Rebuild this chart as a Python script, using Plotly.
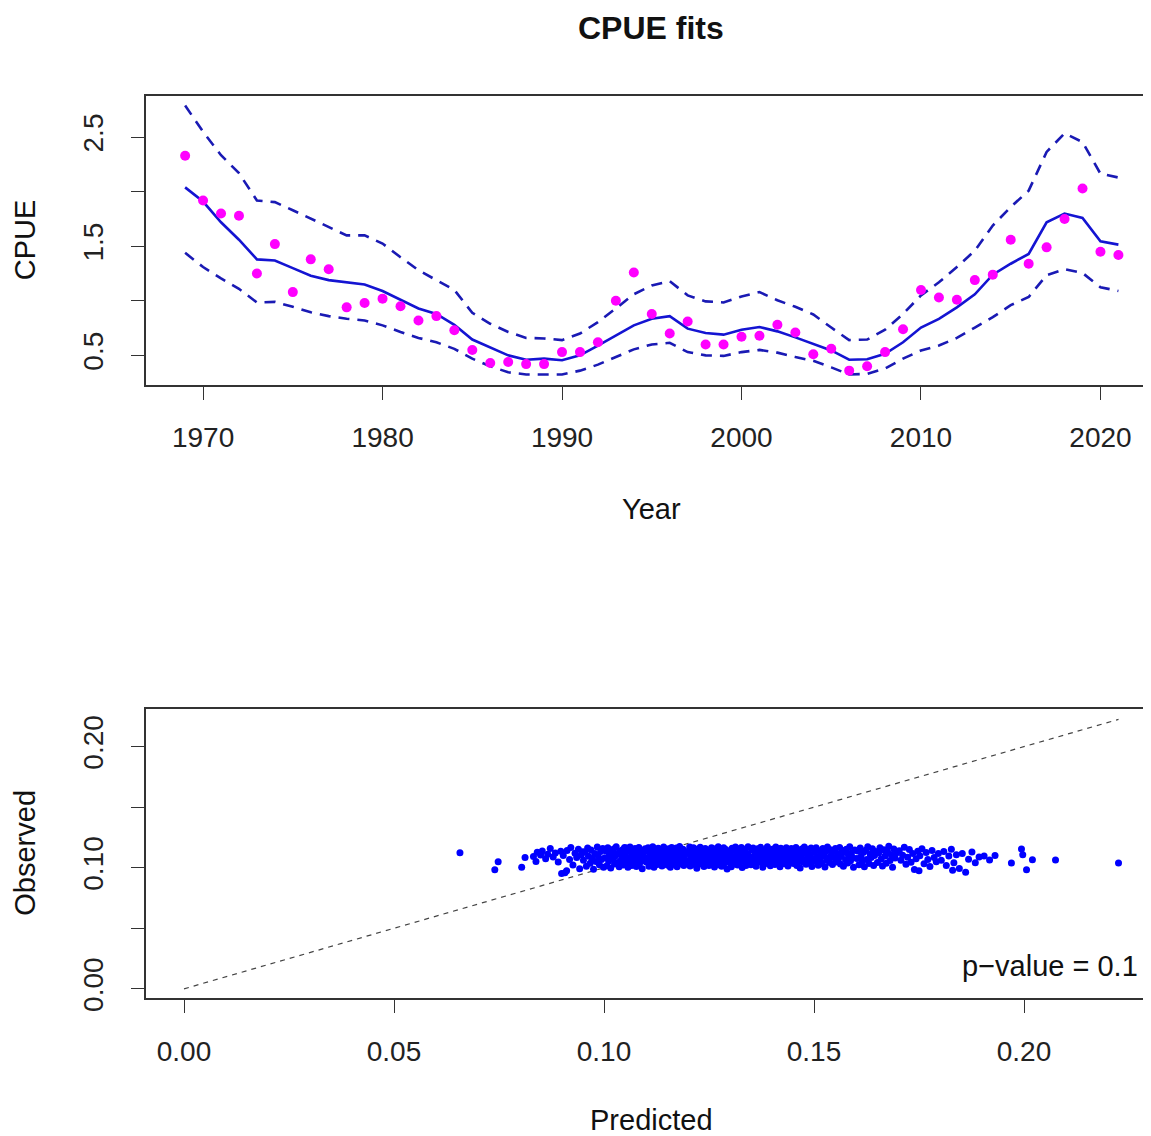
import plotly.graph_objects as go

# ---- top panel: CPUE by year ----
years = list(range(1969, 2022))

obs_cpue = [2.33, 1.92, 1.80, 1.78, 1.25, 1.52, 1.08, 1.38, 1.29, 0.94,
            0.98, 1.02, 0.95, 0.82, 0.86, 0.73, 0.55, 0.43, 0.44, 0.42,
            0.42, 0.53, 0.53, 0.62, 1.00, 1.26, 0.88, 0.70, 0.81, 0.60,
            0.60, 0.67, 0.68, 0.78, 0.71, 0.51, 0.56, 0.36, 0.40, 0.53,
            0.74, 1.10, 1.03, 1.01, 1.19, 1.24, 1.56, 1.34, 1.49, 1.75,
            2.03, 1.45, 1.42]

fit_cpue = [2.04, 1.91, 1.72, 1.56, 1.38, 1.37, 1.30, 1.23, 1.19, 1.17,
            1.15, 1.09, 1.01, 0.93, 0.88, 0.78, 0.645, 0.57, 0.50, 0.46,
            0.47, 0.455, 0.50, 0.59, 0.68, 0.775, 0.835, 0.86, 0.745, 0.705,
            0.69, 0.735, 0.76, 0.72, 0.665, 0.605, 0.545, 0.46, 0.465, 0.515,
            0.62, 0.755, 0.835, 0.94, 1.06, 1.24, 1.34, 1.43, 1.72, 1.80,
            1.76, 1.545, 1.515]

upper_cpue = [2.79, 2.55, 2.335, 2.17, 1.92, 1.905, 1.83, 1.755, 1.68, 1.60,
              1.60, 1.525, 1.40, 1.28, 1.19, 1.10, 0.89, 0.79, 0.715, 0.66,
              0.655, 0.64, 0.70, 0.805, 0.93, 1.06, 1.14, 1.18, 1.05, 0.995,
              0.985, 1.04, 1.08, 1.005, 0.945, 0.875, 0.755, 0.64, 0.645, 0.735,
              0.88, 1.05, 1.17, 1.31, 1.46, 1.69, 1.86, 2.01, 2.365, 2.535,
              2.455, 2.165, 2.13]

lower_cpue = [1.44, 1.31, 1.205, 1.11, 0.985, 0.99, 0.945, 0.895, 0.86, 0.835,
              0.82, 0.775, 0.715, 0.66, 0.62, 0.56, 0.47, 0.40, 0.345, 0.325,
              0.325, 0.325, 0.36, 0.415, 0.485, 0.555, 0.60, 0.615, 0.53, 0.50,
              0.495, 0.53, 0.55, 0.525, 0.485, 0.45, 0.39, 0.325, 0.33, 0.38,
              0.47, 0.545, 0.59, 0.66, 0.755, 0.85, 0.96, 1.035, 1.235, 1.29,
              1.255, 1.125, 1.09]

# ---- bottom panel: predicted vs observed ----
predicted = [
    0.0657, 0.0748, 0.0740, 0.0804, 0.0812, 0.0899, 0.0911,
    0.0832, 0.0841, 0.0838, 0.0849,
    0.0853, 0.0861, 0.0866, 0.0872, 0.0879, 0.0884, 0.0891, 0.0897,
    0.0903, 0.0907, 0.0912, 0.0918, 0.0921, 0.0926, 0.0931, 0.0935, 0.0939, 0.0942, 0.0946, 0.0949,
    0.0951, 0.0954, 0.0958, 0.0961, 0.0963, 0.0967, 0.0969, 0.0972, 0.0975, 0.0978, 0.0981, 0.0984,
    0.0986, 0.0989, 0.0992, 0.0994, 0.0997, 0.0999,
    0.1002, 0.1004, 0.1007, 0.1009, 0.1011, 0.1013, 0.1016, 0.1018, 0.1021, 0.1023, 0.1025, 0.1027,
    0.1029, 0.1032, 0.1034, 0.1036, 0.1038, 0.1041, 0.1043, 0.1045, 0.1046, 0.1048, 0.1049, 0.1047,
    0.1051, 0.1052, 0.1054, 0.1056, 0.1057, 0.1059, 0.1061, 0.1062, 0.1064, 0.1066, 0.1067, 0.1069,
    0.1071, 0.1072, 0.1074, 0.1076, 0.1077, 0.1079, 0.1081, 0.1083, 0.1084, 0.1086, 0.1088, 0.1089,
    0.1091, 0.1093, 0.1095, 0.1098,
    0.1101, 0.1102, 0.1104, 0.1105, 0.1107, 0.1108, 0.1110, 0.1112, 0.1113, 0.1115, 0.1116, 0.1118,
    0.1119, 0.1121, 0.1122, 0.1124, 0.1126, 0.1127, 0.1129, 0.1130, 0.1132, 0.1134, 0.1135, 0.1137,
    0.1138, 0.1140, 0.1142, 0.1143, 0.1145, 0.1148,
    0.1151, 0.1152, 0.1154, 0.1155, 0.1157, 0.1158, 0.1160, 0.1161, 0.1163, 0.1165, 0.1166, 0.1168,
    0.1169, 0.1171, 0.1172, 0.1174, 0.1175, 0.1177, 0.1179, 0.1180, 0.1182, 0.1183, 0.1185, 0.1186,
    0.1188, 0.1190, 0.1191, 0.1193, 0.1195, 0.1198,
    0.1201, 0.1202, 0.1204, 0.1205, 0.1207, 0.1209, 0.1210, 0.1212, 0.1213, 0.1215, 0.1216, 0.1218,
    0.1219, 0.1221, 0.1223, 0.1224, 0.1226, 0.1227, 0.1229, 0.1230, 0.1232, 0.1233, 0.1235, 0.1237,
    0.1238, 0.1240, 0.1241, 0.1243, 0.1245, 0.1247,
    0.1250, 0.1252, 0.1253, 0.1255, 0.1256, 0.1258, 0.1260, 0.1261, 0.1263, 0.1264, 0.1266, 0.1267,
    0.1269, 0.1271, 0.1272, 0.1274, 0.1275, 0.1277, 0.1278, 0.1280, 0.1282, 0.1283, 0.1285, 0.1286,
    0.1288, 0.1290, 0.1291, 0.1293, 0.1295, 0.1297,
    0.1300, 0.1302, 0.1303, 0.1305, 0.1306, 0.1308, 0.1310, 0.1311, 0.1313, 0.1314, 0.1316, 0.1318,
    0.1319, 0.1321, 0.1322, 0.1324, 0.1325, 0.1327, 0.1329, 0.1330, 0.1332, 0.1333, 0.1335, 0.1337,
    0.1338, 0.1340, 0.1341, 0.1343, 0.1345, 0.1347,
    0.1350, 0.1352, 0.1354, 0.1355, 0.1357, 0.1359, 0.1361, 0.1362, 0.1364, 0.1366, 0.1368, 0.1369,
    0.1371, 0.1373, 0.1375, 0.1376, 0.1378, 0.1380, 0.1382, 0.1383, 0.1385, 0.1387, 0.1389, 0.1390,
    0.1392, 0.1394, 0.1396, 0.1398,
    0.1401, 0.1403, 0.1405, 0.1407, 0.1409, 0.1411, 0.1413, 0.1415, 0.1417, 0.1419, 0.1421, 0.1423,
    0.1424, 0.1426, 0.1428, 0.1430, 0.1432, 0.1434, 0.1436, 0.1438, 0.1440, 0.1442, 0.1444, 0.1446,
    0.1447, 0.1449,
    0.1451, 0.1453, 0.1455, 0.1457, 0.1459, 0.1461, 0.1463, 0.1465, 0.1467, 0.1469, 0.1471, 0.1473,
    0.1475, 0.1477, 0.1479, 0.1481, 0.1483, 0.1485, 0.1487, 0.1489, 0.1491, 0.1493, 0.1495, 0.1498,
    0.1501, 0.1503, 0.1505, 0.1508, 0.1510, 0.1512, 0.1514, 0.1517, 0.1519, 0.1521, 0.1523, 0.1526,
    0.1528, 0.1530, 0.1532, 0.1535, 0.1537, 0.1539, 0.1541, 0.1544, 0.1546, 0.1548,
    0.1551, 0.1553, 0.1556, 0.1558, 0.1561, 0.1563, 0.1565, 0.1568, 0.1570, 0.1573, 0.1575, 0.1577,
    0.1580, 0.1582, 0.1585, 0.1587, 0.1589, 0.1592, 0.1594, 0.1597,
    0.1602, 0.1604, 0.1607, 0.1610, 0.1612, 0.1615, 0.1618, 0.1620, 0.1623, 0.1626, 0.1628, 0.1631,
    0.1634, 0.1636, 0.1639, 0.1642, 0.1644, 0.1647,
    0.1651, 0.1654, 0.1657, 0.1660, 0.1663, 0.1666, 0.1669, 0.1672, 0.1675, 0.1678, 0.1681, 0.1684,
    0.1687, 0.1690, 0.1693, 0.1697,
    0.1703, 0.1707, 0.1711, 0.1715, 0.1719, 0.1723, 0.1727, 0.1731, 0.1735, 0.1739, 0.1743, 0.1747,
    0.1752, 0.1757, 0.1762, 0.1767, 0.1771, 0.1776, 0.1781, 0.1786, 0.1791, 0.1796,
    0.1803, 0.1809, 0.1815, 0.1821, 0.1827, 0.1833, 0.1839, 0.1846, 0.1750, 0.1830,
    0.1853, 0.1861, 0.1868, 0.1876, 0.1884, 0.1893,
    0.1905, 0.1918, 0.1931,
    0.1970, 0.1994, 0.1997, 0.2006, 0.2020, 0.2075, 0.2225,
]

observed = [
    0.1124, 0.1050, 0.0983, 0.1003, 0.1085, 0.0953, 0.0975,
    0.1092, 0.1128, 0.1051, 0.1105,
    0.1139, 0.1074, 0.1112, 0.1158, 0.1089, 0.1121, 0.1047, 0.1136,
    0.1101, 0.0958, 0.1142, 0.1068, 0.1167, 0.1023, 0.1119, 0.1085, 0.1152, 0.0991, 0.1108, 0.1131,
    0.1061, 0.1129, 0.1012, 0.1163, 0.1094, 0.1038, 0.1147, 0.1076, 0.0987, 0.1118, 0.1052, 0.1171,
    0.1099, 0.1024, 0.1135, 0.1069, 0.1158, 0.1005,
    0.1083, 0.1141, 0.1017, 0.1165, 0.1056, 0.1108, 0.0998, 0.1127, 0.1072, 0.1154, 0.1031, 0.1096,
    0.1173, 0.1044, 0.1116, 0.1008, 0.1139, 0.1063, 0.1088, 0.1151, 0.1022, 0.1104, 0.1167, 0.1049,
    0.1119, 0.1035, 0.1162, 0.1077, 0.1003, 0.1136, 0.1058, 0.1171, 0.1091, 0.1019, 0.1148, 0.1067,
    0.1124, 0.1042, 0.1158, 0.1085, 0.1011, 0.1132, 0.1073, 0.1168, 0.1029, 0.1101, 0.1145, 0.1054,
    0.0992, 0.1113, 0.1081, 0.1156,
    0.1047, 0.1139, 0.1071, 0.1166, 0.1012, 0.1095, 0.1153, 0.1036, 0.1118, 0.1062, 0.1174, 0.1089,
    0.1005, 0.1127, 0.1056, 0.1145, 0.1079, 0.1027, 0.1161, 0.1098, 0.1041, 0.1133, 0.1069, 0.1149,
    0.1014, 0.1107, 0.1172, 0.1052, 0.1124, 0.1085,
    0.1092, 0.1021, 0.1156, 0.1064, 0.1137, 0.1003, 0.1112, 0.1168, 0.1046, 0.1083, 0.1149, 0.1029,
    0.1121, 0.1074, 0.1163, 0.1009, 0.1104, 0.1141, 0.1057, 0.1176, 0.1033, 0.1095, 0.1128, 0.1066,
    0.1152, 0.1018, 0.1087, 0.1134, 0.1043, 0.1117,
    0.1131, 0.1059, 0.1172, 0.1015, 0.1098, 0.1143, 0.1037, 0.1081, 0.1164, 0.1026, 0.1115, 0.1069,
    0.1153, 0.0996, 0.1106, 0.1048, 0.1137, 0.1077, 0.1169, 0.1031, 0.1093, 0.1146, 0.1054, 0.1122,
    0.1011, 0.1085, 0.1159, 0.1042, 0.1126, 0.1071,
    0.1018, 0.1147, 0.1088, 0.1034, 0.1165, 0.1109, 0.1052, 0.1131, 0.1007, 0.1074, 0.1157, 0.1043,
    0.1119, 0.1096, 0.1174, 0.1025, 0.1063, 0.1142, 0.1081, 0.1013, 0.1128, 0.1059, 0.1166, 0.1037,
    0.1101, 0.1151, 0.1071, 0.0989, 0.1114, 0.1045,
    0.1136, 0.1067, 0.1008, 0.1161, 0.1092, 0.1029, 0.1143, 0.1075, 0.1171, 0.1049, 0.1112, 0.1023,
    0.1155, 0.1086, 0.1038, 0.1127, 0.1064, 0.1168, 0.1002, 0.1103, 0.1139, 0.1056, 0.1083, 0.1152,
    0.1019, 0.1116, 0.1044, 0.1173, 0.1097, 0.1061,
    0.1024, 0.1148, 0.1081, 0.1163, 0.1039, 0.1107, 0.1129, 0.1012, 0.1071, 0.1157, 0.1094, 0.1046,
    0.1134, 0.1169, 0.1058, 0.1117, 0.1004, 0.1088, 0.1145, 0.1033, 0.1122, 0.1066, 0.1174, 0.1051,
    0.1099, 0.1138, 0.1016, 0.1079,
    0.1153, 0.1062, 0.1118, 0.1027, 0.1171, 0.1086, 0.1041, 0.1139, 0.1097, 0.1009, 0.1161, 0.1073,
    0.1125, 0.1054, 0.1147, 0.1032, 0.1109, 0.1166, 0.1069, 0.1014, 0.1131, 0.1092, 0.1045, 0.1158,
    0.1078, 0.1121,
    0.1036, 0.1142, 0.1083, 0.1167, 0.1019, 0.1105, 0.1058, 0.1136, 0.0997, 0.1091, 0.1154, 0.1047,
    0.1117, 0.1172, 0.1066, 0.1028, 0.1129, 0.1084, 0.1151, 0.1042, 0.1108, 0.1163, 0.1011, 0.1074,
    0.1126, 0.1053, 0.1164, 0.1087, 0.1021, 0.1141, 0.1069, 0.1112, 0.1035, 0.1158, 0.1096, 0.1007,
    0.1133, 0.1061, 0.1171, 0.1078, 0.1044, 0.1149, 0.1101, 0.1026, 0.1137, 0.1082,
    0.1159, 0.1048, 0.1115, 0.1072, 0.1168, 0.1031, 0.1094, 0.1143, 0.1013, 0.1127, 0.1065, 0.1152,
    0.1039, 0.1106, 0.1174, 0.1057, 0.1121, 0.1084, 0.1003, 0.1146,
    0.1077, 0.1139, 0.1024, 0.1162, 0.1093, 0.1051, 0.1128, 0.1009, 0.1145, 0.1068, 0.1173, 0.1036,
    0.1111, 0.1084, 0.1156, 0.1019, 0.1102, 0.1135,
    0.1043, 0.1121, 0.1166, 0.1072, 0.1014, 0.1148, 0.1096, 0.1037, 0.1132, 0.1177, 0.1059, 0.1108,
    0.1003, 0.1154, 0.1081, 0.1124,
    0.1141, 0.1062, 0.1103, 0.1169, 0.1028, 0.1087, 0.1151, 0.1045, 0.1117, 0.0986, 0.1074, 0.1136,
    0.1098, 0.1157, 0.1033, 0.1126, 0.1069, 0.1011, 0.1143, 0.1085, 0.1049, 0.1118,
    0.1062, 0.1134, 0.1019, 0.1096, 0.1152, 0.1041, 0.1107, 0.0994, 0.0975, 0.0980,
    0.1118, 0.0963, 0.1071, 0.1129, 0.1042, 0.1088,
    0.1097, 0.1064, 0.1102,
    0.1039, 0.1155, 0.1107, 0.0983, 0.1066, 0.1064, 0.1039,
]

top_y_ticks = [0.5, 1.0, 1.5, 2.0, 2.5]
top_y_text = ["0.5", "", "1.5", "", "2.5"]
year_ticks = [1970, 1980, 1990, 2000, 2010, 2020]
pv_ticks = [0.00, 0.05, 0.10, 0.15, 0.20]
pv_x_text = ["0.00", "0.05", "0.10", "0.15", "0.20"]
pv_y_text = ["0.00", "", "0.10", "", "0.20"]
p_value_text = "p\u2212value = 0.1"

# page body adds an 8px margin; the page is photographed slightly squeezed vertically
OFF = 8
SY = 1136 / 1151
W, H = 1151 - 2 * OFF, 1151 - 2 * OFF
FONT = "Liberation Sans, Arial, sans-serif"
BLUE = "#0000ff"


def fx(px):
    return (px - OFF) / W


def fy(py):
    return 1 - (py / SY - OFF) / H


fig = go.Figure()

fig.add_trace(go.Scatter(x=years, y=upper_cpue, mode="lines", xaxis="x", yaxis="y",
                         line=dict(color="#1a1ab4", width=2.6, dash="11px,8px")))
fig.add_trace(go.Scatter(x=years, y=lower_cpue, mode="lines", xaxis="x", yaxis="y",
                         line=dict(color="#1a1ab4", width=2.6, dash="11px,8px")))
fig.add_trace(go.Scatter(x=years, y=fit_cpue, mode="lines", xaxis="x", yaxis="y",
                         line=dict(color="#1414d2", width=2.6)))
fig.add_trace(go.Scatter(x=years, y=obs_cpue, mode="markers", xaxis="x", yaxis="y",
                         marker=dict(color="#ff00ff", size=10)))

# 1:1 line from zero to the largest value
one_max = max(max(predicted), max(observed))
fig.add_trace(go.Scatter(x=[0, one_max], y=[0, one_max], mode="lines", xaxis="x2", yaxis="y2",
                         line=dict(color="#444444", width=1.2, dash="5px,5px")))
fig.add_trace(go.Scatter(x=predicted, y=observed, mode="markers", xaxis="x2", yaxis="y2",
                         marker=dict(color=BLUE, size=7, line=dict(width=0))))

dom_x = [fx(146), 1.0]
axis_common = dict(showgrid=False, zeroline=False, showline=True,
                   linecolor="#333333", linewidth=1.5, ticks="outside", ticklen=13,
                   tickwidth=1.3, tickcolor="#333333",
                   tickfont=dict(family=FONT, size=28, color="#222222"))

fig.update_layout(
    width=W, height=H,
    margin=dict(l=0, r=0, t=0, b=0),
    paper_bgcolor="white", plot_bgcolor="white",
    showlegend=False,
    xaxis=dict(domain=dom_x, range=[1966.82, 2022.37], tickvals=year_ticks,
               ticklabelstandoff=13, anchor="y", mirror=True, **axis_common),
    yaxis=dict(domain=[fy(385), fy(96)], range=[0.225, 2.876],
               tickvals=top_y_ticks, ticktext=top_y_text, tickangle=-90,
               ticklabelstandoff=17, anchor="x", mirror=False, **axis_common),
    xaxis2=dict(domain=dom_x, range=[-0.00905, 0.22833], tickvals=pv_ticks,
                ticktext=pv_x_text, ticklabelstandoff=15, anchor="y2", mirror=True,
                **axis_common),
    yaxis2=dict(domain=[fy(997), fy(708)], range=[-0.0074, 0.2314],
                tickvals=pv_ticks, ticktext=pv_y_text, tickangle=-90,
                ticklabelstandoff=17, anchor="x2", mirror=False, **axis_common),
)


def label(text, px, py, size=29, bold=False, angle=0, xanchor="center", yanchor="middle"):
    fig.add_annotation(text=f"<b>{text}</b>" if bold else text,
                       x=fx(px), y=min(1.0, fy(py)), xref="paper", yref="paper",
                       xanchor=xanchor, yanchor=yanchor, showarrow=False,
                       textangle=angle, font=dict(family=FONT, size=size, color="#111111"))


# title box hangs from the very top of the page so nothing is clipped
label("CPUE fits", 651, 0, size=32, bold=True, yanchor="top")
label("Year", 651, 509)
label("Predicted", 651, 1119)
label("CPUE", 25, 240, angle=-90)
label("Observed", 25, 852, angle=-90)
label(p_value_text, 1140, 965, xanchor="right")

fig.write_html("out.html")
